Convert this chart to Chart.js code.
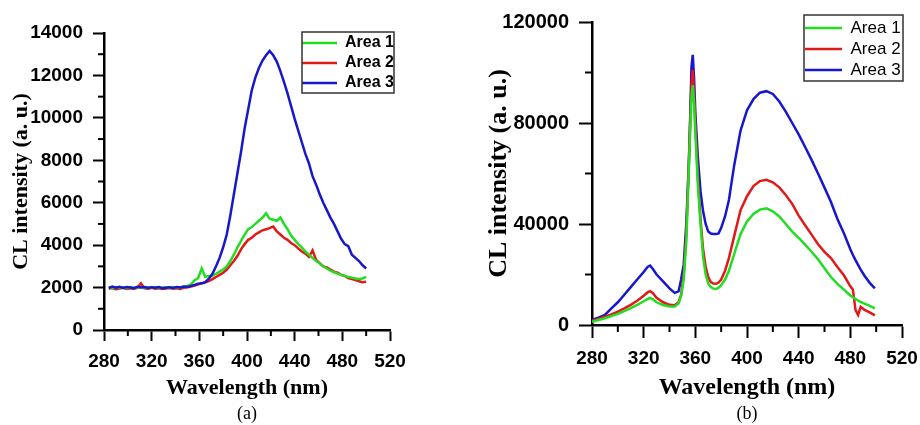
<!DOCTYPE html>
<html>
<head>
<meta charset="utf-8">
<script src="https://cdn.jsdelivr.net/npm/chart.js@4.4.1/dist/chart.umd.min.js"></script>
<style>
  body { margin: 0; background: #fff; }
  #wrap { position: relative; width: 920px; height: 425px; }
  .panel { position: absolute; top: 0; width: 460px; height: 425px; }
</style>
</head>
<body>
<div id="wrap">
  <div class="panel" style="left:0"><canvas id="chartA"></canvas></div>
  <div class="panel" style="left:460px"><canvas id="chartB"></canvas></div>
</div>
<script>
// (a) wavelength grid + CL intensity
const waveA = [284, 287, 290, 293, 296, 299, 302, 305, 308, 311,
  314, 317, 320, 323, 326, 329, 332, 335, 338, 341,
  344, 347, 350, 353, 356, 359, 362, 365, 368, 371,
  374, 377, 380, 383, 386, 389, 392, 395, 398, 401,
  404, 407, 410, 413, 416, 419, 422, 425, 428, 431,
  434, 437, 440, 443, 446, 449, 452, 455, 458, 461,
  464, 467, 470, 473, 476, 479, 482, 485, 488, 491,
  494, 497, 500];
const area1A = [2000, 1960, 2030, 1990, 2010, 1970, 2020, 1990, 2000, 2030,
  1980, 2010, 1990, 2020, 1970, 2000, 2010, 1980, 2020, 1990,
  2010, 2040, 2080, 2150, 2350, 2450, 2900, 2500, 2550, 2560,
  2650, 2750, 2850, 3000, 3250, 3550, 3900, 4200, 4500, 4750,
  4850, 5000, 5150, 5300, 5500, 5250, 5200, 5150, 5300, 5000,
  4750, 4450, 4250, 4050, 3900, 3700, 3550, 3400, 3250, 3150,
  3000, 2900, 2800, 2720, 2660, 2600, 2550, 2500, 2470, 2430,
  2400, 2430, 2500];
const area2A = [1950, 1980, 1920, 1960, 1990, 1940, 1970, 1950, 1990, 2200,
  1960, 1940, 1990, 1950, 1970, 1930, 1960, 1980, 1950, 1970,
  1940, 1990, 2010, 2050, 2100, 2150, 2200, 2250, 2300, 2400,
  2500, 2600, 2700, 2850, 3050, 3250, 3500, 3800, 4050, 4250,
  4350, 4500, 4600, 4700, 4750, 4800, 4880, 4650, 4500, 4350,
  4250, 4100, 4000, 3850, 3700, 3600, 3450, 3750, 3300, 3150,
  3000, 2950, 2850, 2750, 2700, 2600, 2550, 2450, 2400, 2350,
  2300, 2250, 2280];
const area3A = [1980, 2050, 1990, 2040, 1980, 2030, 2000, 1970, 2040, 2000,
  2030, 1980, 2010, 1990, 2020, 1970, 1990, 2010, 1980, 2030,
  2000, 2050, 2030, 2080, 2120, 2180, 2200, 2260, 2420, 2650,
  3000, 3400, 3900, 4500, 5400, 6400, 7400, 8400, 9500, 10400,
  11300, 11900, 12350, 12700, 12950, 13150, 12950, 12650, 12200, 11700,
  11150, 10550, 9950, 9400, 8850, 8300, 7850, 7250, 6850, 6400,
  6000, 5650, 5300, 5000, 4650, 4300, 4050, 3950, 3550, 3400,
  3250, 3050, 2900];

// (b) wavelength grid + CL intensity
const waveB = [280, 285, 290, 295, 300, 305, 310, 315, 320, 323,
  325, 327, 330, 335, 340, 344, 347, 349, 351, 353,
  355, 356, 357, 358, 359, 360, 362, 364, 366, 368,
  370, 372, 374, 376, 378, 380, 383, 386, 390, 395,
  400, 405, 410, 415, 420, 425, 430, 435, 440, 445,
  450, 455, 460, 465, 470, 475, 480, 482, 484, 486,
  488, 491, 495, 499];
const area1B = [1300, 2000, 2700, 3500, 4400, 5500, 6700, 8000, 9400, 10300,
  10700, 10200, 9000, 7900, 7300, 7300, 8500, 11500, 18000, 33000,
  62000, 77000, 90000, 95000, 88000, 76000, 55000, 40000, 27000, 20000,
  16500, 15000, 14400, 14300, 14800, 15800, 18000, 21500, 28000, 36000,
  41000, 44000, 45700, 46200, 45000, 43000, 40000, 37000, 34500, 31800,
  29000, 26000, 22500, 19000, 16300, 14000, 11700, 11000, 10300, 9700,
  9100, 8500, 7600, 6600];
const area2B = [1700, 2400, 3300, 4200, 5300, 6600, 8000, 9600, 11600, 12900,
  13400, 12700, 10800, 9000, 8000, 7800, 9000, 12000, 20000, 36000,
  65000, 80000, 95000, 101000, 92000, 80000, 58000, 42000, 30000, 23000,
  19000, 17000, 16400, 16300, 16800, 18000, 21500, 26500, 35000, 45500,
  51000, 55000, 57000, 57500, 56500, 54500, 51500, 48000, 43300, 39500,
  35800, 32000, 29000, 26500, 23000, 19700, 15300, 14000, 6000, 4000,
  7200, 6000, 5000, 3800];
const area3B = [2000, 2900, 4000, 6600, 9000, 12000, 15000, 18000, 21000, 23000,
  23500, 22300, 20000, 17300, 14500, 12700, 13300, 18000, 24000, 40000,
  64000, 82000, 102000, 107000, 98000, 84000, 66000, 53000, 45000, 40000,
  37000, 36200, 36000, 36000, 36300, 38500, 43000, 49500, 63000, 77000,
  85000, 89500, 92000, 92600, 91500, 88500, 84500, 80000, 75500, 70500,
  65400, 60000, 54400, 48700, 42000, 36300, 30000, 27700, 25700, 23800,
  21900, 19500, 16700, 14500];

const seriesNames = ['Area 1', 'Area 2', 'Area 3'];
const seriesColors = ['#22dd22', '#e31919', '#1717cc'];

const xTicksA = { min: 280, max: 520, step: 40, minor: 20 };
const yTicksA = { min: 0, max: 14000, step: 2000, minor: 1000 };
const xTicksB = { min: 280, max: 520, step: 40, minor: 20 };
const yTicksB = { min: 0, max: 120000, step: 40000, minor: 20000 };

// short ticks between the labelled ones
const minorTicks = {
  id: 'minorTicks',
  afterDatasetsDraw(chart, args, opts) {
    const ctx = chart.ctx;
    ctx.save();
    ctx.strokeStyle = '#000';
    ctx.lineWidth = 2;
    ['x', 'y'].forEach(id => {
      const s = chart.scales[id];
      const step = opts[id];
      const major = s.options.ticks.stepSize;
      for (let v = s.min; v <= s.max + 1e-9; v += step) {
        const r = v / major;
        if (Math.abs(r - Math.round(r)) < 1e-6) continue;
        const p = s.getPixelForValue(v);
        ctx.beginPath();
        if (id === 'x') { ctx.moveTo(p, s.top); ctx.lineTo(p, s.top + opts.len); }
        else { ctx.moveTo(s.right, p); ctx.lineTo(s.right - opts.len, p); }
        ctx.stroke();
      }
    });
    ctx.restore();
  }
};

// move the built-in legend to the top-right corner and put a frame round it
const legendFrame = {
  id: 'legendFrame',
  afterLayout(chart, args, o) {
    const lg = chart.legend, ca = chart.chartArea;
    const pad = lg.options.labels.padding;
    const w = lg.width;
    lg.left = ca.right + o.dx + o.ix - pad;
    lg.right = lg.left + w;
    lg.top = ca.top + o.dy + o.iy - pad;
    lg.bottom = ca.bottom;
  },
  afterDraw(chart, args, o) {
    const ca = chart.chartArea, ctx = chart.ctx;
    ctx.save();
    ctx.strokeStyle = '#333';
    ctx.lineWidth = 1.5;
    ctx.strokeRect(ca.right + o.dx, ca.top + o.dy, o.w, o.h);
    ctx.restore();
  }
};

function makeChart(id, p) {
  const datasets = p.series.map((vals, i) => ({
    label: seriesNames[i],
    data: p.wave.map((x, j) => ({ x: x, y: vals[j] })),
    borderColor: seriesColors[i],
    backgroundColor: seriesColors[i],
    borderWidth: 2.5,
    pointRadius: 0,
    tension: 0,
    fill: false,
    order: p.order[i]
  }));

  return new Chart(document.getElementById(id), {
    type: 'line',
    data: { datasets: datasets },
    plugins: [minorTicks, legendFrame],
    options: {
      responsive: true,
      maintainAspectRatio: false,
      animation: false,
      layout: { padding: { top: p.padTop, right: p.padRight, left: 0, bottom: 0 } },
      scales: {
        x: {
          type: 'linear',
          min: p.xt.min, max: p.xt.max,
          afterFit: s => { s.height = p.xHeight; s.paddingLeft = 0; s.paddingRight = 0; },
          ticks: {
            stepSize: p.xt.step,
            color: '#000',
            padding: p.xPad,
            callback: v => String(v),
            font: { family: 'Liberation Sans', size: p.xFont, weight: 'bold' }
          },
          grid: { drawOnChartArea: false, drawTicks: true, tickLength: p.tickLen, tickWidth: 2, tickColor: '#000' },
          border: { display: true, color: '#000', width: 2.5 },
          title: {
            display: true,
            text: 'Wavelength (nm)',
            color: '#000',
            padding: { top: 0, bottom: p.xTitlePad },
            font: { family: 'Liberation Serif', size: p.xTitleSize, weight: 'bold' }
          }
        },
        y: {
          min: p.yt.min, max: p.yt.max,
          afterFit: s => { s.width = p.yWidth; },
          ticks: {
            stepSize: p.yt.step,
            color: '#000',
            padding: p.yPad,
            callback: v => String(v),
            font: { family: 'Liberation Sans', size: p.yFont, weight: 'bold' }
          },
          grid: { drawOnChartArea: false, drawTicks: true, tickLength: p.tickLen, tickWidth: 2, tickColor: '#000' },
          border: { display: true, color: '#000', width: 2.5 },
          title: {
            display: true,
            text: 'CL intensity (a. u.)',
            color: '#000',
            padding: { top: p.yTitlePad, bottom: 0 },
            font: { family: 'Liberation Serif', size: p.yTitleSize, weight: 'bold' }
          }
        }
      },
      plugins: {
        tooltip: { enabled: false },
        legend: {
          position: 'chartArea',
          align: 'start',
          labels: {
            usePointStyle: true,
            pointStyle: 'line',
            pointStyleWidth: p.legend.lineLen,
            padding: 4,
            color: '#000',
            sort: (a, b) => a.datasetIndex - b.datasetIndex,
            font: { family: 'Liberation Sans', size: p.legend.size, weight: p.legend.weight }
          }
        },
        subtitle: {
          display: true,
          text: p.caption,
          position: 'bottom',
          fullSize: false,
          color: '#000',
          padding: 0,
          font: { family: 'Liberation Serif', size: 18, weight: 'normal' }
        },
        minorTicks: { x: p.xt.minor, y: p.yt.minor, len: p.minorLen },
        legendFrame: p.frame
      }
    }
  });
}

makeChart('chartA', {
  wave: waveA,
  series: [area1A, area2A, area3A],
  order: [1, 2, 0],
  xt: xTicksA, yt: yTicksA,
  padTop: 33, padRight: 70,
  xHeight: 73.4, yWidth: 104,
  xFont: 19, yFont: 19,
  xPad: 9, yPad: 10,
  tickLen: 11, minorLen: 6,
  xTitleSize: 22, xTitlePad: 2,
  yTitleSize: 22, yTitlePad: 8,
  caption: '(a)',
  legend: { size: 16, weight: 'bold', lineLen: 35 },
  frame: { dx: -88, dy: -1, w: 92, h: 61, ix: 0, iy: 3 }
});

makeChart('chartB', {
  wave: waveB,
  series: [area1B, area2B, area3B],
  order: [0, 1, 2],
  xt: xTicksB, yt: yTicksB,
  padTop: 22, padRight: 18,
  xHeight: 78.4, yWidth: 132,
  xFont: 19, yFont: 20,
  xPad: 9, yPad: 10,
  tickLen: 13, minorLen: 7,
  xTitleSize: 24, xTitlePad: 1,
  yTitleSize: 26, yTitlePad: 24,
  caption: '(b)',
  legend: { size: 17, weight: 'normal', lineLen: 37 },
  frame: { dx: -98, dy: -7, w: 99, h: 66, ix: 1, iy: 4.5 }
});
</script>
</body>
</html>
